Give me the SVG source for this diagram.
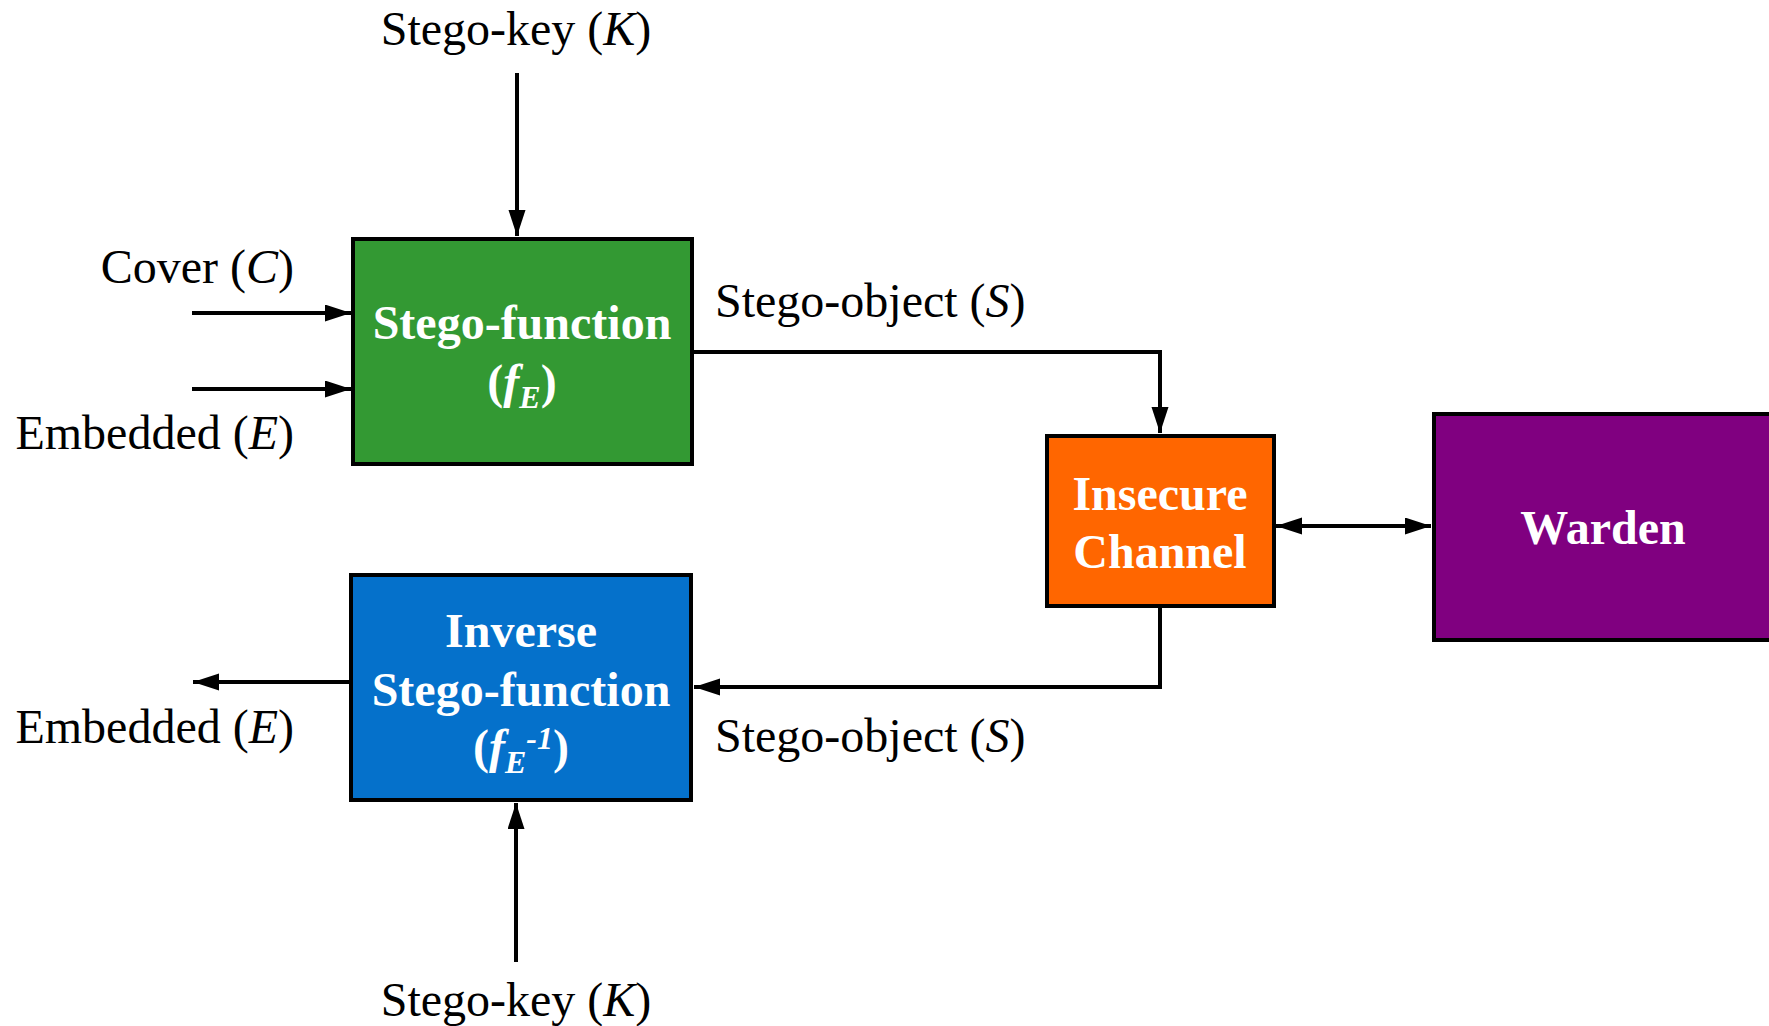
<svg xmlns="http://www.w3.org/2000/svg" width="1769" height="1026" viewBox="0 0 1769 1026">
<style>
.box{stroke:#000;stroke-width:4}
.lbl{font-family:"Liberation Serif","Times New Roman",serif;font-size:48px;fill:#000}
.in{font-family:"Liberation Serif","Times New Roman",serif;font-size:48px;font-weight:bold;fill:#fff;text-anchor:middle}
.conn{stroke:#000;stroke-width:4;fill:none}
</style>
<defs>
<marker id="ah" markerUnits="userSpaceOnUse" markerWidth="27" markerHeight="18" refX="26" refY="8.5" orient="auto-start-reverse">
<path d="M0,0 L26,8.5 L0,17 Z" fill="#000"/>
</marker>
</defs>
<rect width="1769" height="1026" fill="#fff"/>
<g id="connectors">
<line class="conn" x1="517" y1="73" x2="517" y2="236" marker-end="url(#ah)"/>
<line class="conn" x1="192" y1="313" x2="351" y2="313" marker-end="url(#ah)"/>
<line class="conn" x1="192" y1="389" x2="351" y2="389" marker-end="url(#ah)"/>
<polyline class="conn" points="693,352 1160,352 1160,433" marker-end="url(#ah)"/>
<polyline class="conn" points="1160,607 1160,687 694,687" marker-end="url(#ah)"/>
<line class="conn" x1="350" y1="682" x2="193" y2="682" marker-end="url(#ah)"/>
<line class="conn" x1="516" y1="962" x2="516" y2="803" marker-end="url(#ah)"/>
<line class="conn" x1="1276" y1="526" x2="1431" y2="526" marker-start="url(#ah)" marker-end="url(#ah)"/>
</g>
<g id="stego-function">
<rect class="box" x="353" y="239" width="339" height="225" fill="#339933"/>
<text class="in" x="522" y="339">Stego-function</text>
<text class="in" x="522" y="398">(<tspan font-style="italic">f</tspan><tspan font-style="italic" font-size="32" dy="10">E</tspan><tspan dy="-10">)</tspan></text>
</g>
<g id="inverse-stego-function">
<rect class="box" x="351" y="575" width="340" height="225" fill="#0571CB"/>
<text class="in" x="521" y="647">Inverse</text>
<text class="in" x="521" y="706">Stego-function</text>
<text class="in" x="521" y="763">(<tspan font-style="italic">f</tspan><tspan font-style="italic" font-size="32" dy="10">E</tspan><tspan font-style="italic" font-size="32" dy="-24">-1</tspan><tspan dy="14">)</tspan></text>
</g>
<g id="insecure-channel">
<rect class="box" x="1047" y="436" width="227" height="170" fill="#FF6600"/>
<text class="in" x="1160" y="510">Insecure</text>
<text class="in" x="1160" y="568">Channel</text>
</g>
<g id="warden">
<rect class="box" x="1434" y="414" width="345" height="226" fill="#800080"/>
<text class="in" x="1603" y="544">Warden</text>
</g>
<g id="labels">
<text class="lbl" x="516" y="45" text-anchor="middle">Stego-key (<tspan font-style="italic">K</tspan>)</text>
<text class="lbl" x="294" y="283" text-anchor="end">Cover (<tspan font-style="italic">C</tspan>)</text>
<text class="lbl" x="294" y="449" text-anchor="end">Embedded (<tspan font-style="italic">E</tspan>)</text>
<text class="lbl" x="715" y="317">Stego-object (<tspan font-style="italic">S</tspan>)</text>
<text class="lbl" x="715" y="752">Stego-object (<tspan font-style="italic">S</tspan>)</text>
<text class="lbl" x="294" y="743" text-anchor="end">Embedded (<tspan font-style="italic">E</tspan>)</text>
<text class="lbl" x="516" y="1016" text-anchor="middle">Stego-key (<tspan font-style="italic">K</tspan>)</text>
</g>
</svg>
